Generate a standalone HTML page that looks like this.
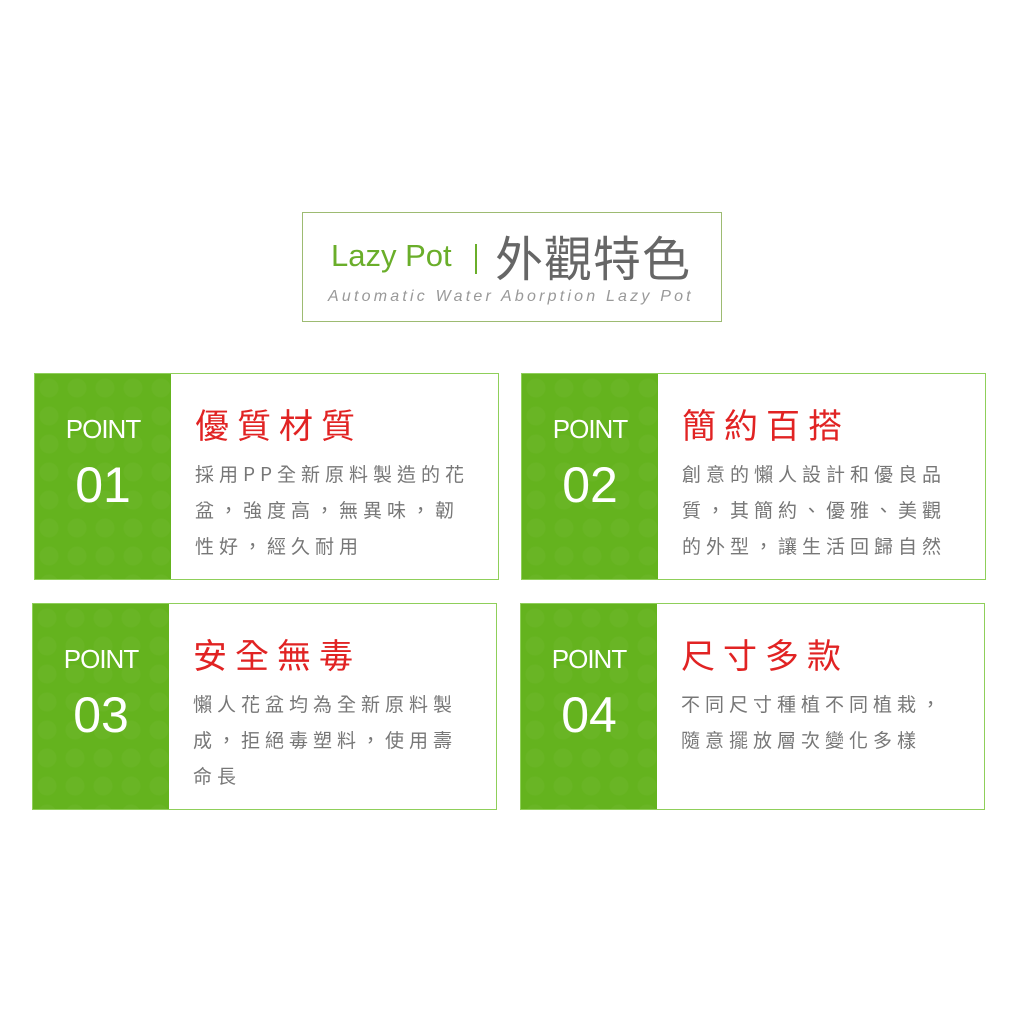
<!DOCTYPE html>
<html><head><meta charset="utf-8"><style>
body{margin:0;width:1024px;height:1024px;background:#fff;position:relative;overflow:hidden;font-family:"Liberation Sans","Noto Sans CJK TC",sans-serif}
.a{position:absolute}
.hdr{left:302px;top:212px;width:420px;height:110px;border:1.5px solid #9dbb72;box-sizing:border-box}
.card{position:absolute;width:465px;height:207px;border:1.5px solid #8fcf5a;box-sizing:border-box;background:#fff}
.g{position:absolute;left:0;top:0;width:136px;height:100%;background:#64b31e;
background-image:radial-gradient(circle at 14px 14px,rgba(255,255,255,.03) 9px,transparent 10px);background-size:28px 28px}
.pt{position:absolute;left:0;width:136px;text-align:center;color:#fff;font-size:26px;top:40px;letter-spacing:-1px}
.num{position:absolute;left:0;width:136px;text-align:center;color:#fff;font-size:50px;top:82px}
.t{position:absolute;left:160px;top:25px;color:#e12323;font-size:34px;letter-spacing:8px;font-family:"Noto Sans CJK TC",sans-serif;font-weight:400}
.b{position:absolute;left:160px;top:82px;color:#777;font-size:19px;letter-spacing:5px;line-height:36px;width:276px;font-family:"Noto Sans CJK TC",sans-serif}
</style></head><body>
<div class="a hdr"></div>
<div class="a" style="left:331px;top:238px;color:#6aae2a;font-size:31px">Lazy Pot</div>
<div class="a" style="left:475px;top:244px;width:1.5px;height:30px;background:#6aae2a"></div>
<div class="a" style="left:495px;top:225px;color:#666;font-size:48px;font-family:'Noto Sans CJK TC',sans-serif;letter-spacing:1px;line-height:60px">外觀特色</div>
<div class="a" style="left:328px;top:288px;color:#999;font-size:16px;font-style:italic;letter-spacing:3.2px">Automatic Water Aborption Lazy Pot</div>

<div class="card" style="left:34px;top:373px"><div class="g"></div><div class="pt">POINT</div><div class="num">01</div>
<div class="t">優質材質</div><div class="b">採用PP全新原料製造的花盆，強度高，無異味，韌性好，經久耐用</div></div>

<div class="card" style="left:521px;top:373px"><div class="g"></div><div class="pt">POINT</div><div class="num">02</div>
<div class="t">簡約百搭</div><div class="b">創意的懶人設計和優良品質，其簡約、優雅、美觀的外型，讓生活回歸自然</div></div>

<div class="card" style="left:32px;top:603px"><div class="g"></div><div class="pt">POINT</div><div class="num">03</div>
<div class="t">安全無毒</div><div class="b">懶人花盆均為全新原料製成，拒絕毒塑料，使用壽命長</div></div>

<div class="card" style="left:520px;top:603px"><div class="g"></div><div class="pt">POINT</div><div class="num">04</div>
<div class="t">尺寸多款</div><div class="b">不同尺寸種植不同植栽，隨意擺放層次變化多樣</div></div>
</body></html>
